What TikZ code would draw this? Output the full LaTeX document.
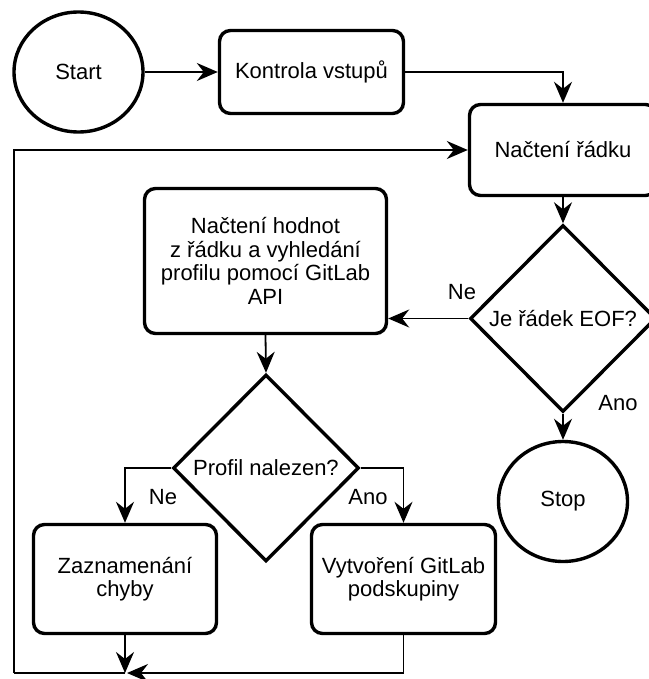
\documentclass[tikz,border=0pt]{standalone}
\usepackage{fontspec}
\setmainfont{Liberation Sans}
\usetikzlibrary{shapes.geometric,arrows.meta}
\tikzset{tip/.tip={Stealth[length=21pt,width=18pt,inset=7pt]}}
\begin{document}
\begin{tikzpicture}[x=1pt,y=-1pt,
  every node/.style={font=\fontsize{22}{23.5}\selectfont},
  proc/.style={draw, line width=3.4pt, rounded corners=11pt, align=center, inner sep=0pt},
  term/.style={draw, ellipse, line width=3.4pt, inner sep=0pt},
  dec/.style={draw, diamond, line width=3.4pt, inner sep=0pt, aspect=1},
  conn/.style={line width=1.8pt, arrows={-tip}},
  plain/.style={line width=1.8pt},
  lab/.style={inner sep=0pt}
]
\useasboundingbox (0,0) rectangle (648,679);

\node[term, minimum width=129, minimum height=120] (start) at (78.5,72) {Start};
\node[proc, minimum width=184, minimum height=83] (kon) at (311.5,72) {Kontrola vstupů};
\node[proc, minimum width=187, minimum height=91] (nr) at (563,150) {Načtení řádku};
\node[dec, minimum width=186, minimum height=187] (eof) at (563,318.5) {Je řádek EOF?};
\node[proc, minimum width=242, minimum height=145] (hod) at (265.5,261) {Načtení hodnot\\z řádku a vyhledání\\profilu pomocí GitLab\\API};
\node[dec, minimum width=186, minimum height=187] (prof) at (266,468) {Profil nalezen?};
\node[proc, minimum width=183, minimum height=109] (zaz) at (125,579) {Zaznamenání\\chyby};
\node[proc, minimum width=184, minimum height=109] (vyt) at (403.5,579) {Vytvoření GitLab\\podskupiny};
\node[term, minimum width=129, minimum height=120] (stop) at (563,501.5) {Stop};

\node[lab] (ne1) at (462,292) {Ne};
\node[lab] (ano1) at (618,403) {Ano};
\node[lab] (ne2) at (163,497) {Ne};
\node[lab] (ano2) at (368,497) {Ano};

\coordinate (j) at (125,673);
\coordinate (l1) at (14,673);

\draw[conn] (start.east) -- (start.east -| kon.west);
\draw[conn] (kon.east) -| (nr.north);
\draw[conn] (nr.south) -- (eof.north);
\draw[conn] (eof.west) -- (eof.west -| hod.east);
\draw[conn] (eof.south) -- (stop.north);
\draw[conn] (hod.south) -- (prof.north);
\draw[conn] (prof.west) -| (zaz.north);
\draw[conn] (prof.east) -| (vyt.north);
\draw[conn] (zaz.south) -- (j);
\draw[conn] (vyt.south) |- ([xshift=2pt]j);
\draw[plain] (j) -- (l1);
\draw[conn] (l1) |- (nr.west);
\end{tikzpicture}
\end{document}
